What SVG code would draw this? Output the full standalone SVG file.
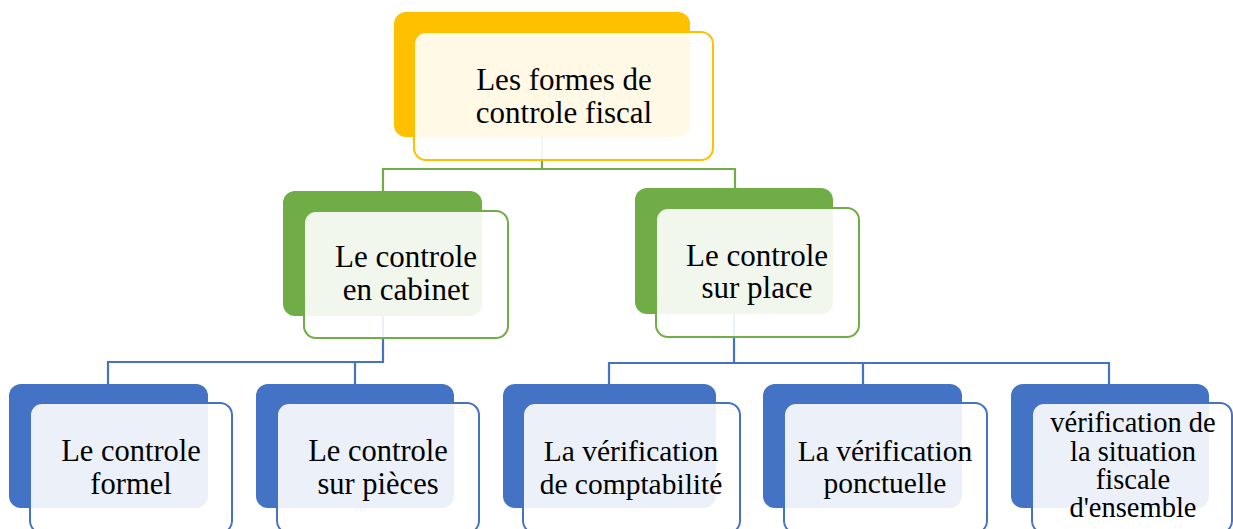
<svg xmlns="http://www.w3.org/2000/svg" width="1233" height="529" viewBox="0 0 1233 529">
<style>
.bg{fill:#ffffff}
.back{stroke:none}
.front{fill:#ffffff;fill-opacity:0.9;stroke-width:2}
.gold .back{fill:#ffc000}.gold .front{stroke:#ffc000}
.green .back{fill:#70ad47}.green .front{stroke:#70ad47}
.blue .back{fill:#4472c4}.blue .front{stroke:#4472c4}
.conn{fill:none;stroke-width:2.2}
.cg{stroke:#70ad47}.cb{stroke:#4472c4}
text{font-family:"Liberation Serif","Times New Roman",serif;font-size:31px;fill:#000;text-anchor:middle}
.bl{font-size:30.5px}
.mid{font-size:29.5px}
.small{font-size:28.5px}
</style>
<rect class="bg" x="0" y="0" width="1233" height="529"/>
<g id="connectors">
<path class="conn cg" d="M542,137 V169 M383,191 V169 H735 V188"/>
<path class="conn cb" d="M383,316 V362 M108,384 V362 H384 M355,362 V384"/>
<path class="conn cb" d="M734,314 V363 M609,384 V363 H1109 V384 M863,363 V384"/>
</g>
<g id="node-root" class="gold">
<rect class="back" x="394" y="12" width="296" height="125" rx="12"/>
<rect class="front" x="414" y="32" width="299" height="128" rx="12"/>
<text x="564" y="90">Les formes de</text>
<text x="564" y="123">controle fiscal</text>
</g>
<g id="node-cabinet" class="green">
<rect class="back" x="283" y="191" width="199" height="125" rx="12"/>
<rect class="front" x="304" y="211" width="204" height="127" rx="12"/>
<text x="406" y="267">Le controle</text>
<text x="406" y="300">en cabinet</text>
</g>
<g id="node-place" class="green">
<rect class="back" x="635" y="188" width="198" height="126" rx="12"/>
<rect class="front" x="656" y="208" width="203" height="129" rx="12"/>
<text x="757" y="266">Le controle</text>
<text x="757" y="298">sur place</text>
</g>
<g id="node-formel" class="blue">
<rect class="back" x="9" y="384" width="199" height="124" rx="12"/>
<rect class="front" x="30" y="403" width="202" height="130" rx="12"/>
<text class="bl" x="131" y="461">Le controle</text>
<text class="bl" x="131" y="494">formel</text>
</g>
<g id="node-pieces" class="blue">
<rect class="back" x="256" y="384" width="198" height="124" rx="12"/>
<rect class="front" x="277" y="403" width="202" height="130" rx="12"/>
<text class="bl" x="378" y="461">Le controle</text>
<text class="bl" x="378" y="494">sur pièces</text>
</g>
<g id="node-comptabilite" class="blue">
<rect class="back" x="503" y="384" width="213" height="124" rx="12"/>
<rect class="front" x="523" y="403" width="217" height="130" rx="12"/>
<text class="mid" x="631" y="461">La vérification</text>
<text class="mid" x="631" y="494">de comptabilité</text>
</g>
<g id="node-ponctuelle" class="blue">
<rect class="back" x="763" y="384" width="199" height="124" rx="12"/>
<rect class="front" x="784" y="403" width="203" height="130" rx="12"/>
<text class="mid" x="885" y="461">La vérification</text>
<text class="mid" x="885" y="493">ponctuelle</text>
</g>
<g id="node-ensemble" class="blue">
<rect class="back" x="1011" y="384" width="198" height="124" rx="12"/>
<rect class="front" x="1032" y="403" width="200" height="130" rx="12"/>
<text class="small" x="1133" y="432">vérification de</text>
<text class="small" x="1133" y="461">la situation</text>
<text class="small" x="1133" y="489">fiscale</text>
<text class="small" x="1133" y="517">d'ensemble</text>
</g>
</svg>
